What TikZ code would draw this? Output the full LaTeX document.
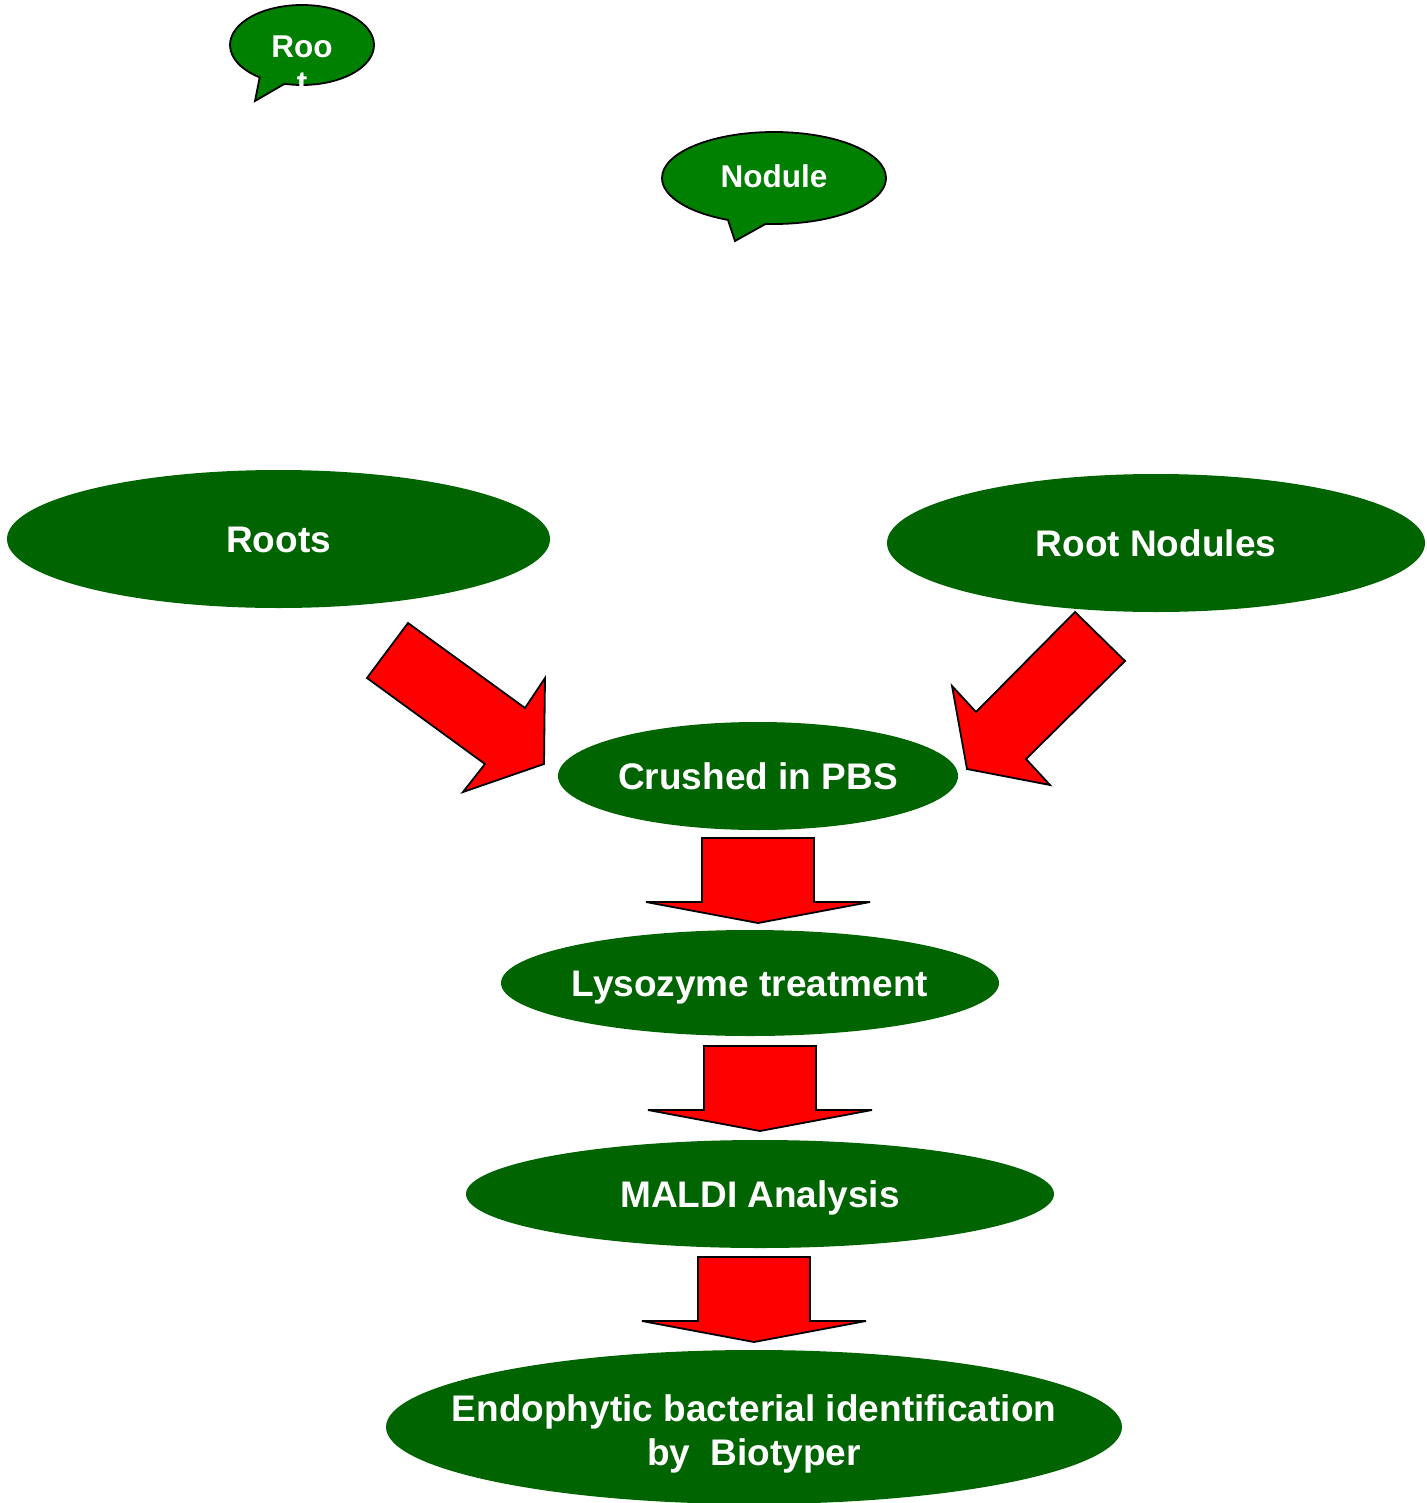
\documentclass[tikz,border=0pt]{standalone}
\usepackage{fontspec}
\setmainfont{Liberation Sans}
\usetikzlibrary{shapes.geometric,shapes.callouts,calc}

\definecolor{stagegreen}{RGB}{0,100,0}
\definecolor{bubblegreen}{RGB}{0,128,0}

\tikzset{
  stage/.style={ellipse, fill=stagegreen, inner sep=0pt},
  stagetext/.style={text=white, inner sep=0pt, font=\fontsize{37}{43.5}\selectfont\bfseries, align=center},
  stageline/.style={stagetext, text height=26.5pt, text depth=0pt},
  bubble/.style={ellipse callout, draw=black, line width=1.8pt, fill=bubblegreen, inner sep=0pt},
  bubbletext/.style={text=white, inner sep=0pt, font=\fontsize{31.5}{36}\selectfont\bfseries, align=center},
  bigarrow/.style={draw=black, line width=1.8pt, fill=red, line join=miter},
  pics/downarrow/.style={code={
    \draw[bigarrow] (-56,-42) -- (56,-42) -- (56,22) -- (112,22) -- (0,43) -- (-112,22) -- (-56,22) -- cycle;
  }}
}

\begin{document}
\begin{tikzpicture}[x=1pt, y=-1pt]
  \useasboundingbox (0,0) rectangle (1426,1503);

  % speech bubbles
  \node[bubble, minimum width=144pt, minimum height=80pt,
        callout absolute pointer={(255,101)}, callout pointer arc=22] (rootbubble) at (302,45) {};
  \node[bubbletext, anchor=north] (roottext) at (302,36) {Roo\\t};
  \node[bubble, minimum width=224pt, minimum height=92pt,
        callout absolute pointer={(735,241)}, callout pointer arc=20] (nodbubble) at (774,178) {};
  \node[bubbletext] (nodtext) at ($(nodbubble.center)+(0,-2)$) {Nodule};

  % stages
  \node[stage, minimum width=543pt, minimum height=138pt,
        label={[stageline]center:Roots}] (roots) at (278.5,539) {};
  \node[stage, minimum width=538pt, minimum height=138pt,
        label={[stageline]center:Root Nodules}] (nodules) at (1156,543) {};
  \node[stage, minimum width=400pt, minimum height=108pt,
        label={[stageline]center:Crushed in PBS}] (crush) at (758,776) {};
  \node[stage, minimum width=498pt, minimum height=106pt,
        label={[stageline]center:Lysozyme treatment}] (lyso) at (750,983) {};
  \node[stage, minimum width=588pt, minimum height=108pt,
        label={[stageline]center:MALDI Analysis}] (maldi) at (760,1194) {};
  \node[stage, minimum width=736pt, minimum height=154pt,
        label={[stagetext, yshift=-7pt]center:{Endophytic bacterial identification\\by\ \ Biotyper}}] (endo) at (754,1427) {};

  % block arrows
  \draw[bigarrow] (408,623) -- (525,708) -- (545,678) -- (544,764) -- (463,792) -- (485,764) -- (367,678) -- cycle;
  \draw[bigarrow] (1075,612) -- (1125,661) -- (1026,759) -- (1050,785) -- (967,769) -- (952,686) -- (976,712) -- cycle;
  \pic at ($(crush.south)!0.5!(crush.south |- lyso.north)$) {downarrow};
  \pic at ($(maldi.north)!0.5!(maldi.north |- lyso.south)$) {downarrow};
  \pic at ($(endo.north)!0.5!(endo.north |- maldi.south)$) {downarrow};
\end{tikzpicture}
\end{document}
